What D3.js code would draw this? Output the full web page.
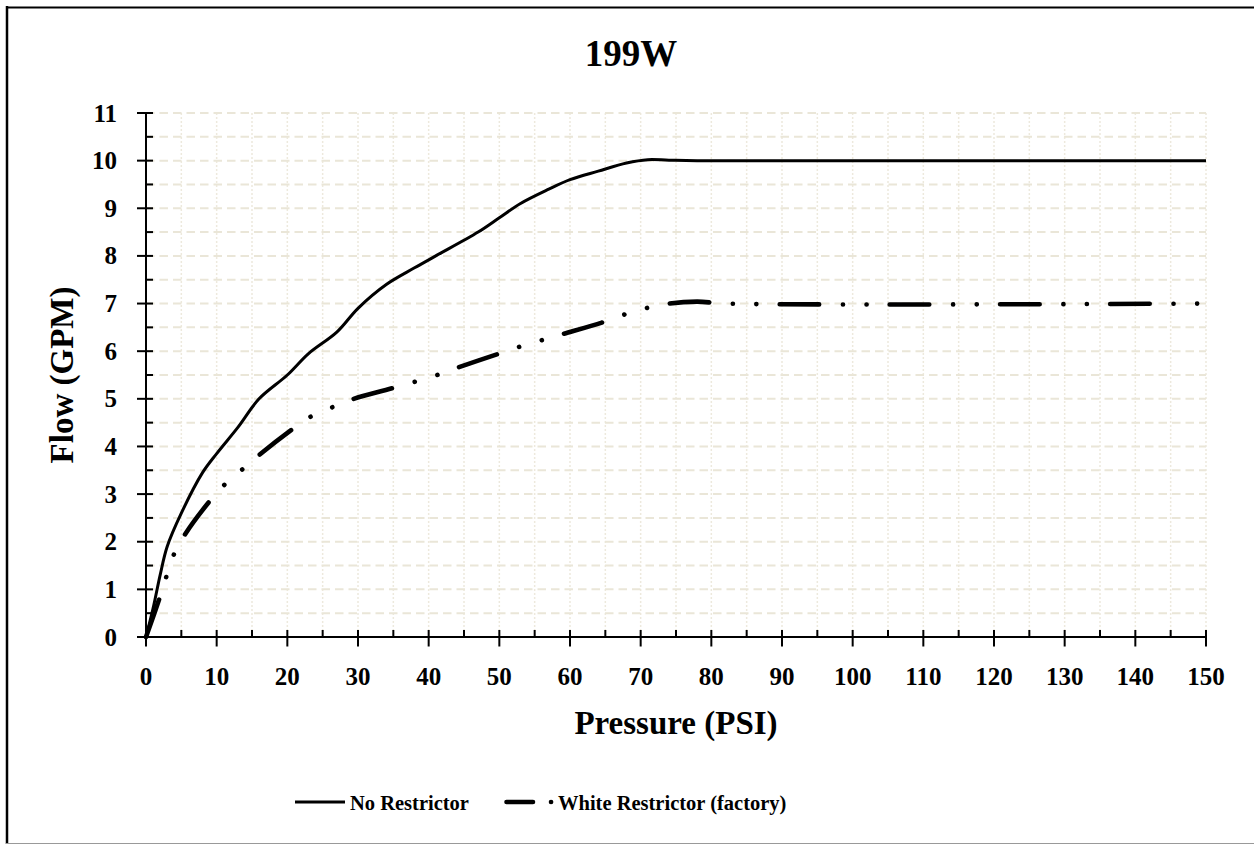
<!DOCTYPE html>
<html>
<head>
<meta charset="utf-8">
<script src="https://cdn.jsdelivr.net/npm/d3@7"></script>
<style>
  body { margin: 0; background: #fff; }
  svg text { font-family: "Liberation Serif", "Times New Roman", serif; font-weight: bold; fill: #000; }
</style>
</head>
<body>
<div id="chart"></div>
<script>
// Flow vs pressure readings
const noRestrictorPsi = [0, 1, 2, 3, 5, 8, 10, 13, 16, 20, 23, 27, 30, 34, 38, 41, 47, 50, 53, 57, 60, 64, 68, 71, 74, 78, 150];
const noRestrictorGpm = [0, 0.6, 1.3, 1.9, 2.6, 3.45, 3.85, 4.4, 5.0, 5.5, 5.95, 6.4, 6.9, 7.4, 7.75, 8.0, 8.5, 8.8, 9.1, 9.4, 9.6, 9.78, 9.95, 10.02, 10.01, 10.0, 10.0];

const whitePsi = [0, 2, 4, 5.5, 9, 11, 13.5, 16, 20.6, 23, 26, 29, 35, 41, 44, 50, 53, 56, 59, 64.5, 67.5, 70.7, 74, 78, 82, 150];
const whiteGpm = [0, 0.85, 1.75, 2.15, 2.85, 3.18, 3.5, 3.82, 4.35, 4.6, 4.8, 4.98, 5.23, 5.49, 5.65, 5.95, 6.1, 6.23, 6.36, 6.6, 6.76, 6.9, 7.0, 7.04, 7.0, 7.0];

const xTicks = d3.range(0, 151, 10);
const yTicks = d3.range(0, 12, 1);

const seriesNames = ["No Restrictor", "White Restrictor (factory)"];

const width = 1254, height = 844;
const plotLeft = 146, plotRight = 1206, plotTop = 113, plotBottom = 637;

const svg = d3.select("#chart").append("svg")
  .attr("width", width)
  .attr("height", height);

// outer frame (left/top visible, right cut off)
svg.append("line").attr("x1", 7).attr("x2", 7).attr("y1", 6).attr("y2", 844)
  .attr("stroke", "#000").attr("stroke-width", 2.5);
svg.append("line").attr("x1", 6).attr("x2", 1254).attr("y1", 7.5).attr("y2", 7.5)
  .attr("stroke", "#000").attr("stroke-width", 2);
svg.append("line").attr("x1", 6).attr("x2", 1254).attr("y1", 843.5).attr("y2", 843.5)
  .attr("stroke", "#999").attr("stroke-width", 1);

const x = d3.scaleLinear().domain([0, 150]).range([plotLeft, plotRight]);
const y = d3.scaleLinear().domain([0, 11]).range([plotBottom, plotTop]);

// grid
const grid = svg.append("g");
grid.selectAll(".vgrid")
  .data(d3.range(5, 151, 5))
  .join("line")
  .attr("x1", d => x(d)).attr("x2", d => x(d))
  .attr("y1", plotTop).attr("y2", plotBottom)
  .attr("stroke", "#EDE9DD").attr("stroke-width", 1.5)
  .attr("stroke-dasharray", "2,2");
grid.selectAll(".hgrid")
  .data(d3.range(0.5, 11.01, 0.5))
  .join("line")
  .attr("x1", plotLeft).attr("x2", plotRight)
  .attr("y1", d => y(d)).attr("y2", d => y(d))
  .attr("stroke", "#EAE6D8").attr("stroke-width", 2)
  .attr("stroke-dasharray", "8.5,5");

// axes
const xAxis = svg.append("g").attr("transform", `translate(0,${plotBottom})`);
xAxis.append("line").attr("x1", plotLeft).attr("x2", plotRight).attr("stroke", "#000").attr("stroke-width", 2);
xAxis.selectAll(".minor").data(d3.range(5, 151, 10)).join("line")
  .attr("x1", d => x(d)).attr("x2", d => x(d)).attr("y1", 0).attr("y2", -7)
  .attr("stroke", "#000").attr("stroke-width", 2);
xAxis.selectAll(".major").data(xTicks).join("line")
  .attr("x1", d => x(d)).attr("x2", d => x(d)).attr("y1", -7).attr("y2", 9.5)
  .attr("stroke", "#000").attr("stroke-width", 2);
xAxis.selectAll("text").data(xTicks).join("text")
  .attr("x", d => x(d)).attr("y", 48)
  .attr("text-anchor", "middle")
  .style("font-size", "25px")
  .text(d => d);

const yAxis = svg.append("g").attr("transform", `translate(${plotLeft},0)`);
yAxis.append("line").attr("y1", plotTop).attr("y2", plotBottom).attr("stroke", "#000").attr("stroke-width", 2);
yAxis.selectAll(".minor").data(d3.range(0.5, 11, 1)).join("line")
  .attr("y1", d => y(d)).attr("y2", d => y(d)).attr("x1", 0).attr("x2", 7)
  .attr("stroke", "#000").attr("stroke-width", 2);
yAxis.selectAll(".major").data(yTicks).join("line")
  .attr("y1", d => y(d)).attr("y2", d => y(d)).attr("x1", -9).attr("x2", 7)
  .attr("stroke", "#000").attr("stroke-width", 2);
yAxis.selectAll("text").data(yTicks).join("text")
  .attr("x", -29).attr("y", d => y(d))
  .attr("dy", "0.34em")
  .attr("text-anchor", "end")
  .style("font-size", "25px")
  .text(d => d);

// lines
const line = d3.line()
  .x(d => x(d[0]))
  .y(d => y(d[1]))
  .curve(d3.curveCatmullRom.alpha(0.5));

const whiteDash = "39.5,23.7,0.1,23.5,0.1,23.2";

svg.append("path")
  .datum(d3.zip(whitePsi, whiteGpm))
  .attr("d", line)
  .attr("fill", "none")
  .attr("stroke", "#000")
  .attr("stroke-width", 4.6)
  .attr("stroke-linecap", "round")
  .attr("stroke-dasharray", whiteDash);

svg.append("path")
  .datum(d3.zip(noRestrictorPsi, noRestrictorGpm))
  .attr("d", line)
  .attr("fill", "none")
  .attr("stroke", "#000")
  .attr("stroke-width", 3);

// title
svg.append("text")
  .attr("x", 631).attr("y", 66)
  .attr("text-anchor", "middle")
  .style("font-size", "37px")
  .text("199W");

// axis titles
svg.append("text")
  .attr("x", 676).attr("y", 734)
  .attr("text-anchor", "middle")
  .style("font-size", "33px")
  .text("Pressure (PSI)");

svg.append("text")
  .attr("transform", "translate(73,375) rotate(-90)")
  .attr("text-anchor", "middle")
  .style("font-size", "33px")
  .text("Flow (GPM)");

// legend
const legend = svg.append("g");
legend.append("line")
  .attr("x1", 295).attr("x2", 345).attr("y1", 802).attr("y2", 802)
  .attr("stroke", "#000").attr("stroke-width", 3);
legend.append("text")
  .attr("x", 350).attr("y", 810)
  .style("font-size", "20.5px")
  .text(seriesNames[0]);
legend.append("line")
  .attr("x1", 506.5).attr("x2", 560).attr("y1", 802).attr("y2", 802)
  .attr("stroke", "#000").attr("stroke-width", 4.6)
  .attr("stroke-linecap", "round")
  .attr("stroke-dasharray", "26.5,18,0.1,100");
legend.append("text")
  .attr("x", 558).attr("y", 810)
  .style("font-size", "20.5px")
  .text(seriesNames[1]);
</script>
</body>
</html>
